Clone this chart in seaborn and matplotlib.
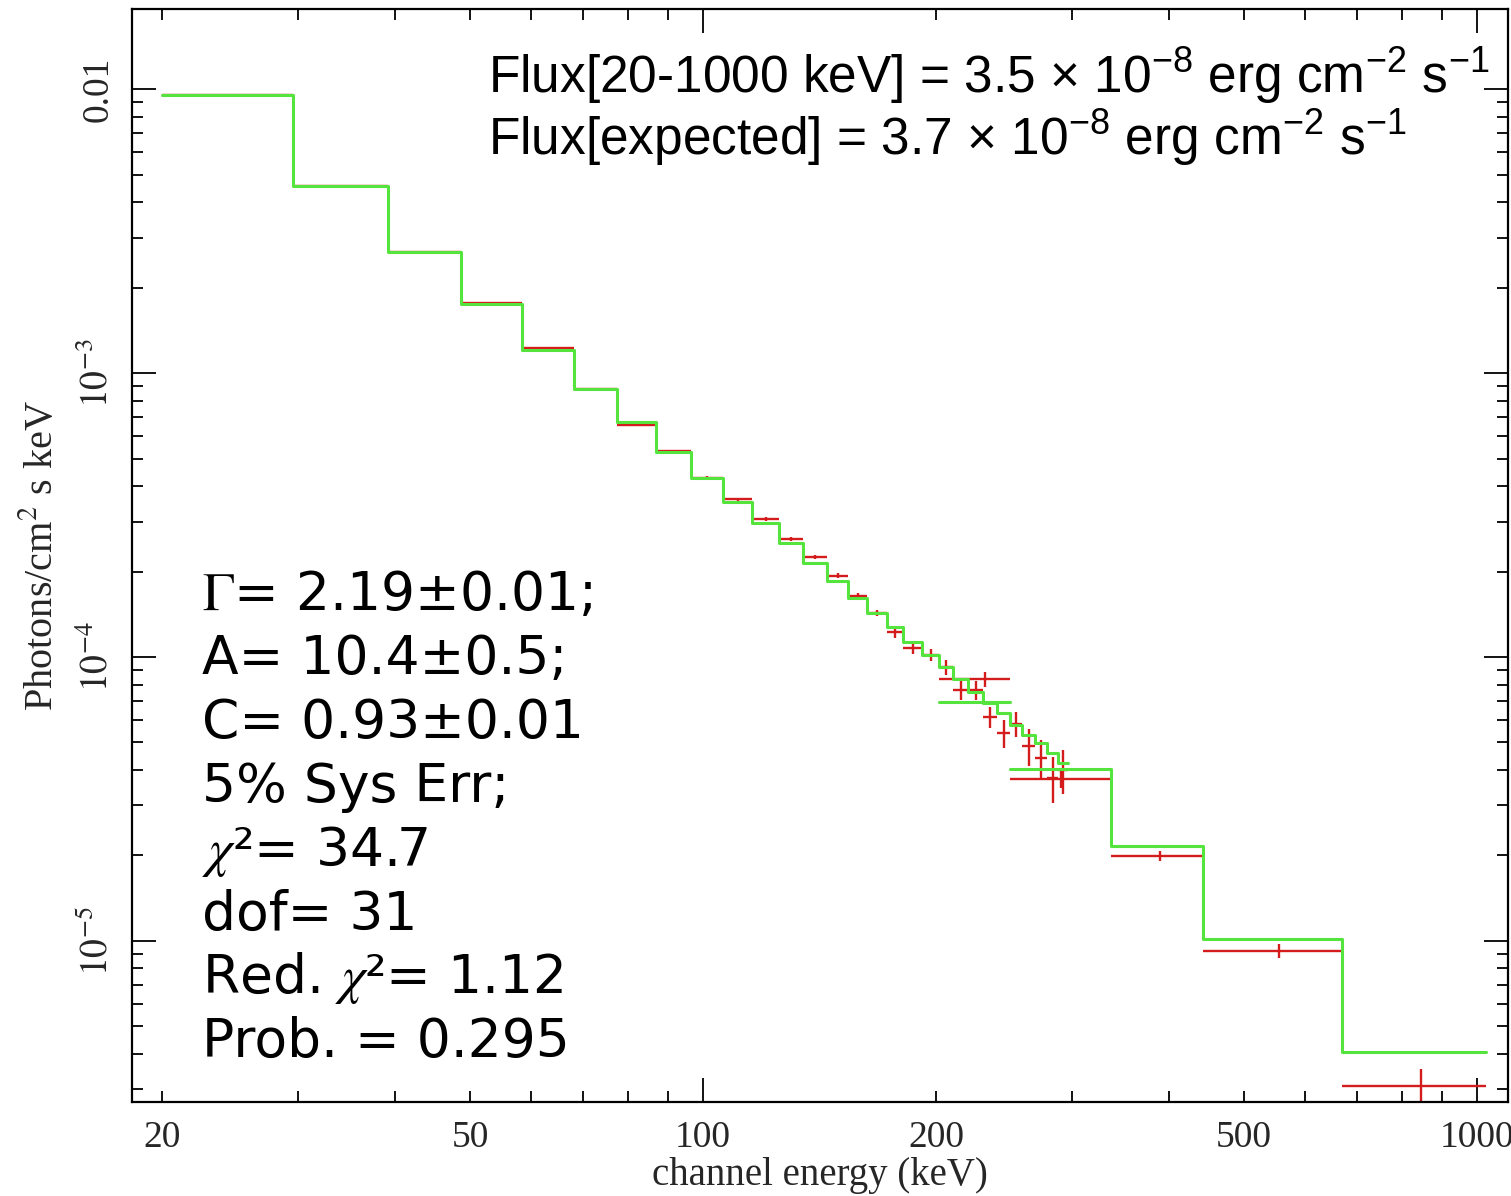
import numpy as np
import seaborn as sns
import matplotlib.pyplot as plt
from matplotlib.ticker import FixedLocator, NullFormatter

# === Data ===
# narrow-bin instrument: bin edges (keV), data and model (photons/cm2/s/keV)
narrow_edges = [20.0, 29.5, 39.2, 48.7, 58.4, 68.1, 77.4, 87.0, 96.5, 106.1,
                115.7, 125.4, 134.7, 144.6, 153.9, 162.9, 172.9, 181.3, 191.8,
                201.8, 210.4, 219.9, 230.0, 239.8, 249.3, 258.3, 268.5, 278.2,
                287.5, 296.2]
narrow_data = [9.52e-3, 4.55e-3, 2.67e-3, 1.77e-3, 1.23e-3, 8.79e-4, 6.56e-4,
               5.30e-4, 4.28e-4, 3.60e-4, 3.06e-4, 2.60e-4, 2.25e-4, 1.93e-4,
               1.64e-4, 1.43e-4, 1.22e-4, 1.08e-4, 1.02e-4, 9.2e-5, 7.65e-5,
               7.65e-5, 6.15e-5, 5.40e-5, 5.81e-5, 4.86e-5, 4.41e-5, 3.75e-5,
               4.00e-5]
narrow_err = [3e-5, 1.5e-5, 1e-5, 8e-6, 6e-6, 5e-6, 5e-6, 5e-6, 4.5e-6, 4.5e-6,
              4.5e-6, 4e-6, 4e-6, 4e-6, 3.5e-6, 3.6e-6, 5.0e-6, 5.4e-6, 5.1e-6,
              5.8e-6, 5.8e-6, 5.8e-6, 5.2e-6, 6.0e-6, 5.9e-6, 7.2e-6, 6.9e-6,
              7.0e-6, 7.0e-6]
narrow_model = [9.52e-3, 4.55e-3, 2.67e-3, 1.75e-3, 1.21e-3, 8.79e-4, 6.71e-4,
                5.27e-4, 4.26e-4, 3.52e-4, 2.96e-4, 2.52e-4, 2.14e-4, 1.85e-4,
                1.61e-4, 1.43e-4, 1.28e-4, 1.13e-4, 1.016e-4, 9.22e-5, 8.37e-5,
                7.53e-5, 6.89e-5, 6.35e-5, 5.77e-5, 5.31e-5, 4.98e-5, 4.59e-5,
                4.23e-5]

# wide-bin instrument: first bin stands alone, the rest are contiguous
wide_lo = [201.8, 249.3, 336.0, 442.0, 668.0]
wide_hi = [249.3, 336.0, 442.0, 668.0, 1028.0]
wide_center = [231.0, 290.0, 389.0, 555.0, 847.0]
wide_data = [8.37e-5, 3.72e-5, 1.99e-5, 9.22e-6, 3.08e-6]
wide_err = [5.0e-6, 2.5e-6, 8e-7, 5.3e-7, 4.5e-7]
wide_model = [6.95e-5, 4.03e-5, 2.16e-5, 1.016e-5, 4.07e-6]

x_major = [100, 1000]
x_minor = [20, 30, 40, 50, 60, 70, 80, 90, 200, 300, 400, 500, 600, 700, 800, 900]
x_tick_labels = {20: "20", 50: "50", 100: "100", 200: "200", 500: "500", 1000: "1000"}
y_tick_vals = [1e-5, 1e-4, 1e-3, 1e-2]
y_tick_labels = [r"$10^{-5}$", r"$10^{-4}$", r"$10^{-3}$", "0.01"]

flux_lines = [
    r"Flux[20-1000 keV] = 3.5 $\times$ 10$^{-8}$ erg cm$^{-2}$ s$^{-1}$",
    r"Flux[expected] = 3.7 $\times$ 10$^{-8}$ erg cm$^{-2}$ s$^{-1}$",
]
fit_lines = [
    r"$\Gamma$= 2.19±0.01;",
    "A= 10.4±0.5;",
    "C= 0.93±0.01",
    "5% Sys Err;",
    r"$\chi$²= 34.7",
    "dof= 31",
    r"Red. $\chi$²= 1.12",
    "Prob. = 0.295",
]

RED = "#d41c1c"
GREEN = "#55e43e"

sns.set_style("ticks")
plt.rcParams["font.family"] = ["Liberation Serif", "DejaVu Serif"]
plt.rcParams["mathtext.fontset"] = "custom"
plt.rcParams["mathtext.rm"] = "Liberation Sans"
plt.rcParams["mathtext.it"] = "Liberation Sans:italic"

W, H = 1511, 1196
fig = plt.figure(figsize=(W / 100, H / 100), dpi=100)
ax = fig.add_axes([132 / W, 1 - 1102 / H, (1508 - 132) / W, (1102 - 9) / H])
ax.set(xscale="log", yscale="log")

# === Data crosses ===
ne = np.array(narrow_edges)
nc = np.sqrt(ne[:-1] * ne[1:])
ax.errorbar(nc, narrow_data, xerr=[nc - ne[:-1], ne[1:] - nc], yerr=narrow_err,
            fmt="none", ecolor=RED, elinewidth=1.7, capsize=0, zorder=2)
wc = np.array(wide_center)
ax.errorbar(wc, wide_data, xerr=[wc - np.array(wide_lo), np.array(wide_hi) - wc],
            yerr=wide_err, fmt="none", ecolor=RED, elinewidth=1.7, capsize=0, zorder=2)

# === Model steps ===
sns.lineplot(x=narrow_edges, y=narrow_model + [narrow_model[-1]], drawstyle="steps-post",
             estimator=None, sort=False, color=GREEN, lw=2.2, ax=ax, zorder=3)
sns.lineplot(x=[wide_lo[0], wide_hi[0]], y=[wide_model[0], wide_model[0]],
             estimator=None, sort=False, color=GREEN, lw=2.2, ax=ax, zorder=3)
sns.lineplot(x=wide_lo[1:] + [wide_hi[-1]], y=wide_model[1:] + [wide_model[-1]],
             drawstyle="steps-post", estimator=None, sort=False, color=GREEN, lw=2.2,
             ax=ax, zorder=3)

ax.set_xlim(18.29, 1096)
ax.set_ylim(2.71e-6, 1.914e-2)

# === Axes styling ===
for s in ax.spines.values():
    s.set_linewidth(1.6)
    s.set_color("black")

ax.set_xticks(x_major, [x_tick_labels[v] for v in x_major])
ax.set_xticks(x_minor, [x_tick_labels.get(v, "") for v in x_minor], minor=True)
ax.set_yticks(y_tick_vals, y_tick_labels, rotation=90, va="center",
              math_fontfamily="stix")
ax.yaxis.set_minor_formatter(NullFormatter())

ax.tick_params(which="both", direction="in", top=True, right=True, color="black",
               width=1.3, labelsize=27)
ax.tick_params(which="major", length=17)
ax.tick_params(which="minor", length=8)
ax.tick_params(axis="x", which="both", pad=13)
ax.tick_params(axis="y", which="both", pad=12)

ax.set_xlabel("channel energy (keV)", fontsize=28, labelpad=2)
ax.set_ylabel(r"Photons/cm$^2$ s keV", fontsize=29, labelpad=12, math_fontfamily="stix")

# === Annotations ===
for i, line in enumerate(flux_lines):
    fig.text(488 / W, 1 - (93 + 62 * i) / H, line, fontsize=37, va="baseline",
             family=["Liberation Sans", "DejaVu Sans"], color="black")

for i, line in enumerate(fit_lines):
    fig.text(202 / W, 1 - (610 + 63.9 * i) / H, line, fontsize=38.5, va="baseline",
             family=["DejaVu Sans"], math_fontfamily="stix", color="black")

fig.savefig("out.png", dpi=100)
